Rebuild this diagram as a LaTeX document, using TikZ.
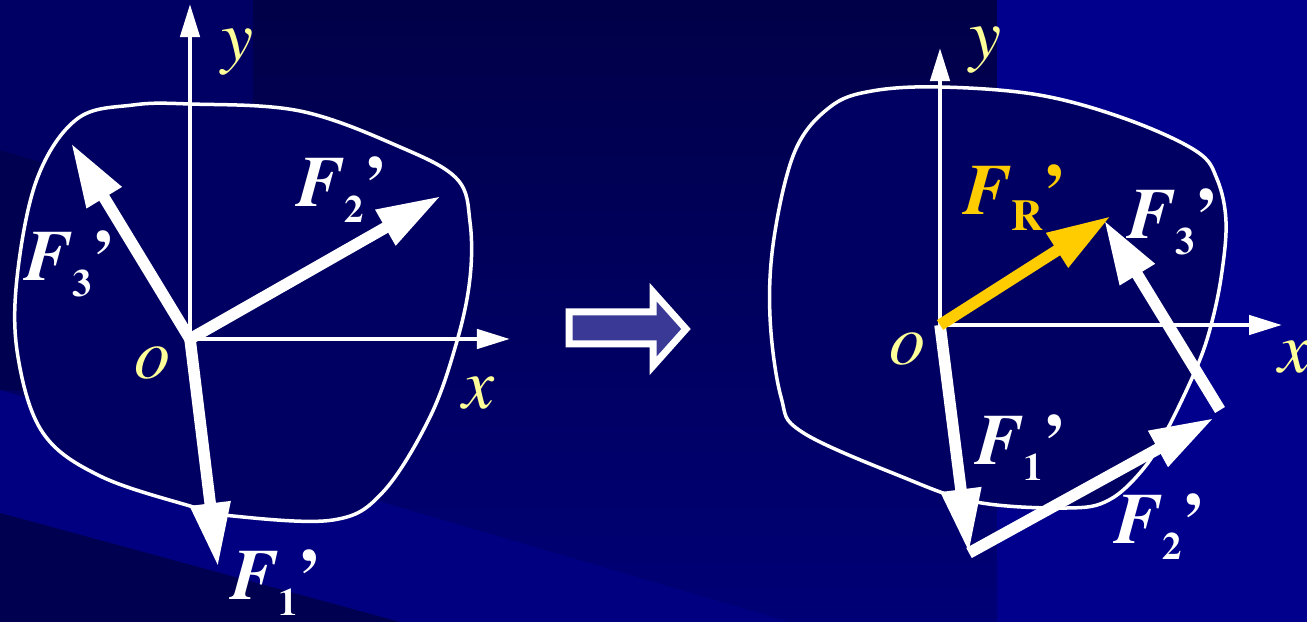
\documentclass[tikz,border=0pt]{standalone}
\usepackage{fontspec}
\IfFontExistsTF{TeX Gyre Termes}{\setmainfont{TeX Gyre Termes}}{\setmainfont{Liberation Serif}}
\usetikzlibrary{arrows.meta}
\definecolor{bgbase}{RGB}{0,0,100}
\definecolor{bgtop}{RGB}{0,0,72}
\definecolor{bgbot}{RGB}{0,0,118}
\definecolor{bgright}{RGB}{0,0,140}
\definecolor{bgdark}{RGB}{0,0,80}
\definecolor{bgband}{RGB}{0,0,128}
\definecolor{bodyfill}{RGB}{0,0,98}
\definecolor{axislbl}{RGB}{255,255,153}
\definecolor{resgold}{RGB}{255,204,0}
\definecolor{hollowfill}{RGB}{58,58,150}
\newcommand{\Fp}[1]{{\bfseries\itshape F}\raisebox{-4.5pt}{\fontsize{11}{13}\selectfont\bfseries #1}\textbf{’}}
\begin{document}
\begin{tikzpicture}[x=0.01cm,y=-0.01cm,font=\rmfamily\fontsize{20.5}{23}\selectfont,
  body/.style={draw=white,line width=0.035cm,fill=bodyfill},
  axis/.style={white,line width=0.045cm,-{Triangle[length=0.33cm,width=0.19cm]}},
  force/.style={white,line width=0.115cm,-{Triangle[length=0.64cm,width=0.38cm]}},
  axlbl/.style={text=axislbl,font=\rmfamily\fontsize{20.5}{23}\selectfont\itshape,inner sep=0pt},
  flbl/.style={text=white,inner sep=0pt}]
\useasboundingbox (0,0) rectangle (1307,622);
% background
\fill[bgbase] (0,0) rectangle (1307,622);
\shade[top color=bgtop,bottom color=bgbot] (253,0) rectangle (997,622);
\fill[bgright] (997,0) rectangle (1307,622);
\fill[bgdark] (0,150)--(40,162)--(40,392)--(0,390)--cycle;
\fill[bgband] (0,390)--(790,622)--(400,622)--(0,513)--cycle;
\fill[bgdark] (0,513)--(400,622)--(0,622)--cycle;
% left: forces at o
\draw[body] plot[smooth cycle,tension=0.6] coordinates {(190,104)(300,111)(400,147)(457,179)(470,222)(470,278)(457,341)(430,417)(383,492)(333,520)(233,516)(190,506)(100,476)(43,433)(18,357)(17,278)(37,179)(77,119)(133,105)};
\coordinate (oL) at (190,339);
\coordinate (yL) at (190,4);\coordinate (xL) at (510,339);
\coordinate (f1L) at (218,567);\coordinate (f2L) at (441,196);\coordinate (f3L) at (71,143);
\draw[axis] (oL)--(yL);\draw[axis] (oL)--(xL);
\draw[force] (oL)--(f1L);\draw[force] (oL)--(f2L);\draw[force] (oL)--(f3L);
\node[axlbl] (ylblL) at (237,52) {y};\node[axlbl] (xlblL) at (478,393) {x};\node[axlbl] (olblL) at (153,363) {o};
\node[flbl] (f1lblL) at (276,583) {\Fp{1}};
\node[flbl] (f2lblL) at (342,190) {\Fp{2}};
\node[flbl] (f3lblL) at (70,264) {\Fp{3}};
% hollow arrow
\draw[white,line width=0.07cm,fill=hollowfill] (569,312)--(653,312)--(653,292)--(686,329)--(653,366)--(653,344)--(569,344)--cycle;
% right: force polygon
\draw[body] plot[smooth cycle,tension=0.6] coordinates {(941,87)(1039,95)(1126,119)(1196,151)(1217,179)(1226,222)(1221,278)(1210,329)(1196,369)(1168,428)(1144,468)(1109,500)(1067,508)(976,502)(900,476)(802,432)(781,397)(770,317)(774,238)(795,151)(830,107)(872,91)};
\coordinate (oR) at (940,325);
\coordinate (yR) at (940,48);\coordinate (xR) at (1282,325);
\coordinate (f1R) at (969,553);\coordinate (f2R) at (1214,418);
\coordinate (f3s) at (1220,410);\coordinate (f3R) at (1104,220);
\coordinate (fres) at (1111,216);
\draw[axis] (oR)--(yR);\draw[axis] (oR)--(xR);
\draw[force] (oR)--(f1R);\draw[force] (f1R)--(f2R);\draw[force] (f3s)--(f3R);
\draw[force,resgold] (oR)--(fres);
\node[axlbl] (ylblR) at (985,50) {y};\node[axlbl] (xlblR) at (1294,357) {x};\node[axlbl] (olblR) at (908,349) {o};
\node[flbl,text=resgold] (frlbl) at (1015,198) {{\bfseries\itshape F}\raisebox{-4.5pt}{\fontsize{12.5}{14}\selectfont\bfseries R}\textbf{’}};
\node[flbl] (f3lblR) at (1173,222) {\Fp{3}};
\node[flbl] (f1lblR) at (1021,448) {\Fp{1}};
\node[flbl] (f2lblR) at (1160,527) {\Fp{2}};
\end{tikzpicture}
\end{document}
